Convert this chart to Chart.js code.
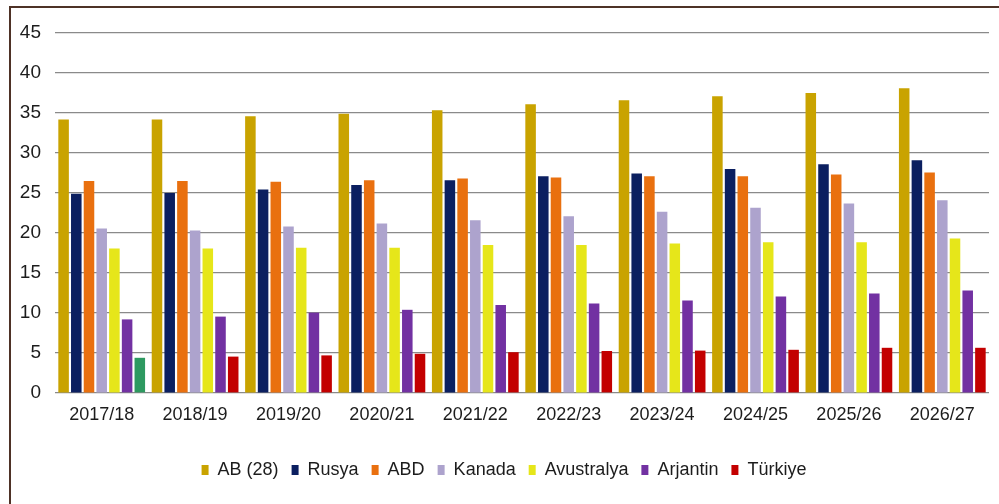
<!DOCTYPE html>
<html>
<head>
<meta charset="utf-8">
<script src="https://cdn.jsdelivr.net/npm/chart.js@4"></script>
<style>
  html, body { margin: 0; padding: 0; background: #ffffff; }
  #frame {
    position: absolute; left: 9px; top: 6px; width: 990px; height: 498px;
    border-left: 2px solid #4e3226; border-top: 2px solid #4e3226;
    box-sizing: border-box; background: #ffffff;
  }
  #wrap { position: absolute; left: 0; top: 0; width: 999px; height: 504px; }
</style>
</head>
<body>
<div id="frame"></div>
<div id="wrap"><canvas id="wheatChart"></canvas></div>
<script>
const seasons = ['2017/18', '2018/19', '2019/20', '2020/21', '2021/22', '2022/23', '2023/24', '2024/25', '2025/26', '2026/27'];

const ab28 =       [34.2, 34.2, 34.6, 34.9, 35.35, 36.1, 36.6, 37.1, 37.5, 38.1];
const rusya =      [24.9, 25.0, 25.45, 26.0, 26.6, 27.1, 27.45, 28.0, 28.6, 29.1];
const abd =        [26.5, 26.5, 26.4, 26.6, 26.8, 26.95, 27.1, 27.1, 27.3, 27.55];
const kanada =     [20.55, 20.3, 20.8, 21.2, 21.6, 22.1, 22.65, 23.15, 23.7, 24.1];
const avustralya = [18.05, 18.05, 18.15, 18.15, 18.5, 18.5, 18.7, 18.85, 18.85, 19.3];
const arjantin =   [9.2, 9.55, 10.05, 10.4, 11.0, 11.2, 11.55, 12.05, 12.45, 12.8];
const turkiye =    [4.4, 4.55, 4.7, 4.9, 5.1, 5.25, 5.3, 5.4, 5.65, 5.65];

const yTicks = [0, 5, 10, 15, 20, 25, 30, 35, 40, 45];

const seriesNames = ['AB (28)', 'Rusya', 'ABD', 'Kanada', 'Avustralya', 'Arjantin', 'Türkiye'];
const seriesValues = [ab28, rusya, abd, kanada, avustralya, arjantin, turkiye];
const seriesColors = ['#c9a300', '#0b1f60', '#e9700f', '#ada3cd', '#e6e61a', '#7231a2', '#c30000'];
const firstTurkiyeColor = '#2d9960';

const fontFamily = '"Liberation Sans", Arial, sans-serif';
const textColor = '#1c1c1c';

const datasets = seriesNames.map((name, i) => ({
  label: name,
  data: seriesValues[i],
  // the first Türkiye bar is green in the source chart
  backgroundColor: i === 6
    ? (ctx) => (ctx.dataIndex === 0 ? firstTurkiyeColor : seriesColors[i])
    : seriesColors[i],
  borderWidth: 0,
  categoryPercentage: 0.952,
  barPercentage: 0.83,
}));

const ctx = document.getElementById('wheatChart').getContext('2d');
new Chart(ctx, {
  type: 'bar',
  data: { labels: seasons, datasets },
  options: {
    responsive: true,
    maintainAspectRatio: false,
    animation: false,
    layout: { padding: { left: 19, top: 33, right: 10, bottom: 15 } },
    plugins: {
      legend: {
        position: 'bottom',
        labels: {
          color: textColor,
          font: { family: fontFamily, size: 18 },
          boxWidth: 7,
          boxHeight: 10,
          padding: 13,
          generateLabels: (chart) => chart.data.datasets.map((ds, i) => ({
            text: ds.label,
            fillStyle: seriesColors[i],
            strokeStyle: seriesColors[i],
            lineWidth: 0,
            hidden: false,
            datasetIndex: i,
            fontColor: textColor,
          })),
        },
      },
      tooltip: { enabled: false },
    },
    scales: {
      x: {
        grid: { display: false, drawTicks: false },
        border: { display: false },
        ticks: { color: textColor, font: { family: fontFamily, size: 18 }, padding: 11, maxRotation: 0 },
        afterFit: (scale) => { scale.height = 55; },
      },
      y: {
        min: 0,
        max: 45,
        afterBuildTicks: (scale) => { scale.ticks = yTicks.map(v => ({ value: v })); },
        grid: { color: '#8a8a8a', lineWidth: 1.2, drawTicks: false },
        border: { display: false },
        ticks: { color: textColor, font: { family: fontFamily, size: 19 }, padding: 14 },
        afterFit: (scale) => { scale.width = 36; },
      },
    },
  },
});
</script>
</body>
</html>
